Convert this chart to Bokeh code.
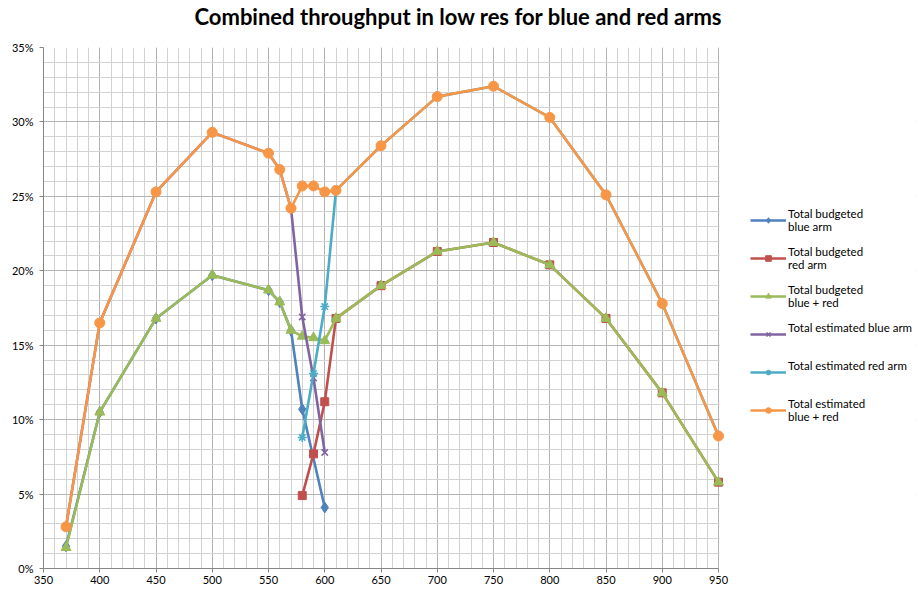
from bokeh.plotting import figure
from bokeh.models import (Legend, LegendItem, Title, SingleIntervalTicker,
                          PrintfTickFormatter, Range1d, BoxAnnotation)
from bokeh.embed import file_html
from bokeh.resources import INLINE

# wavelength (nm) and throughput (%)
wl_budget_blue = [370, 400, 450, 500, 550, 560, 570, 580, 600]
budget_blue = [1.5, 10.5, 16.8, 19.7, 18.7, 17.9, 16.0, 10.7, 4.1]

wl_budget_red = [580, 590, 600, 610, 650, 700, 750, 800, 850, 900, 950]
budget_red = [4.9, 7.7, 11.2, 16.8, 19.0, 21.3, 21.9, 20.4, 16.8, 11.8, 5.8]

wl_total = [370, 400, 450, 500, 550, 560, 570, 580, 590, 600, 610,
            650, 700, 750, 800, 850, 900, 950]
budget_total = [1.4, 10.5, 16.8, 19.7, 18.7, 17.9, 16.0, 15.6, 15.5, 15.3, 16.8,
                19.0, 21.3, 21.9, 20.4, 16.8, 11.8, 5.8]

wl_est_blue = [370, 400, 450, 500, 550, 560, 570, 580, 590, 600]
est_blue = [2.8, 16.5, 25.3, 29.3, 27.9, 26.8, 24.2, 16.9, 12.8, 7.8]

wl_est_red = [580, 590, 600, 610, 650, 700, 750, 800, 850, 900, 950]
est_red = [8.8, 13.1, 17.6, 25.4, 28.4, 31.7, 32.4, 30.3, 25.1, 17.8, 8.9]

est_total = [2.8, 16.5, 25.3, 29.3, 27.9, 26.8, 24.2, 25.7, 25.7, 25.3, 25.4,
             28.4, 31.7, 32.4, 30.3, 25.1, 17.8, 8.9]

X_MIN, X_MAX = 350, 950
Y_MIN, Y_MAX = 0, 35

series = [
    ("Total budgeted\nblue arm", wl_budget_blue, budget_blue, "#4F81BD", "diamond", 11),
    ("Total budgeted\nred arm", wl_budget_red, budget_red, "#C0504D", "square", 8),
    ("Total budgeted\nblue + red", wl_total, budget_total, "#9BBB59", "triangle", 10),
    ("Total estimated blue arm\n ", wl_est_blue, est_blue, "#8064A2", "x", 9),
    ("Total estimated red arm\n ", wl_est_red, est_red, "#4BACC6", "asterisk", 9),
    ("Total estimated\nblue + red", wl_total, est_total, "#F79646", "circle", 10),
]

# data span is 675 px wide; the frame continues to the right to host the
# legend (the grid is masked there)
FRAME_W, DATA_W = 872, 675
x_end = X_MIN + (X_MAX - X_MIN) * FRAME_W / DATA_W

p = figure(frame_width=FRAME_W, frame_height=521, output_backend="svg",
           toolbar_location=None,
           x_range=Range1d(X_MIN, x_end), y_range=Range1d(Y_MIN, Y_MAX),
           min_border_left=43, min_border_right=2, min_border_top=47,
           min_border_bottom=18)

# spacer between the title and the plot area, then the title itself
p.add_layout(Title(text=" ", text_font="Lato", text_font_size="13px",
                   standoff=0), "above")
p.add_layout(Title(text="Combined throughput in low res for blue and red arms",
                   text_font="Lato", text_font_size="22px", text_font_style="bold",
                   text_color="#000000", align="left", offset=151,
                   standoff=0), "above")

p.outline_line_color = None
p.background_fill_color = "white"
p.border_fill_color = "white"

p.xaxis.ticker = SingleIntervalTicker(interval=50, num_minor_ticks=5)
p.yaxis.ticker = SingleIntervalTicker(interval=5, num_minor_ticks=5)
p.yaxis.formatter = PrintfTickFormatter(format="%d%%")
p.xaxis.bounds = (X_MIN, X_MAX)

for ax in (p.xaxis, p.yaxis):
    ax.axis_line_color = "#868686"
    ax.major_tick_line_color = "#868686"
    ax.major_tick_out = 4
    ax.major_tick_in = 0
    ax.minor_tick_out = 0
    ax.minor_tick_in = 0
    ax.major_label_text_font = "Lato"
    ax.major_label_text_font_size = "11px"
    ax.major_label_text_color = "#000000"
    ax.major_label_standoff = 3
p.yaxis.major_label_standoff = 6

for g in (p.xgrid, p.ygrid):
    g.grid_line_color = "#b4b4b4"
    g.grid_line_width = 1
    g.minor_grid_line_color = "#d2d2d2"
    g.minor_grid_line_width = 1

# white mask over the grid to the right of the data area
p.add_layout(BoxAnnotation(left=X_MAX + 1, fill_color="white", fill_alpha=1,
                           line_alpha=0, level="underlay"))

items = []
for label, xs, ys, color, marker, size in series:
    ln = p.line(xs, ys, line_color=color, line_width=2.6)
    if marker in ("x", "asterisk"):
        sc = p.scatter(xs, ys, marker=marker, size=size, line_color=color,
                       line_width=1.6)
    else:
        sc = p.scatter(xs, ys, marker=marker, size=size, fill_color=color,
                       line_color=color)
    items.append(LegendItem(label=label, renderers=[ln, sc]))

legend = Legend(items=items, location=(707, 145), glyph_width=36,
                glyph_height=14, label_text_font="Lato",
                label_text_font_size="11.5px", label_text_color="#000000",
                spacing=12, padding=2, margin=0, border_line_color=None,
                background_fill_alpha=0, label_standoff=2)
p.add_layout(legend, "center")

open("out.html", "w").write(file_html(p, INLINE))
